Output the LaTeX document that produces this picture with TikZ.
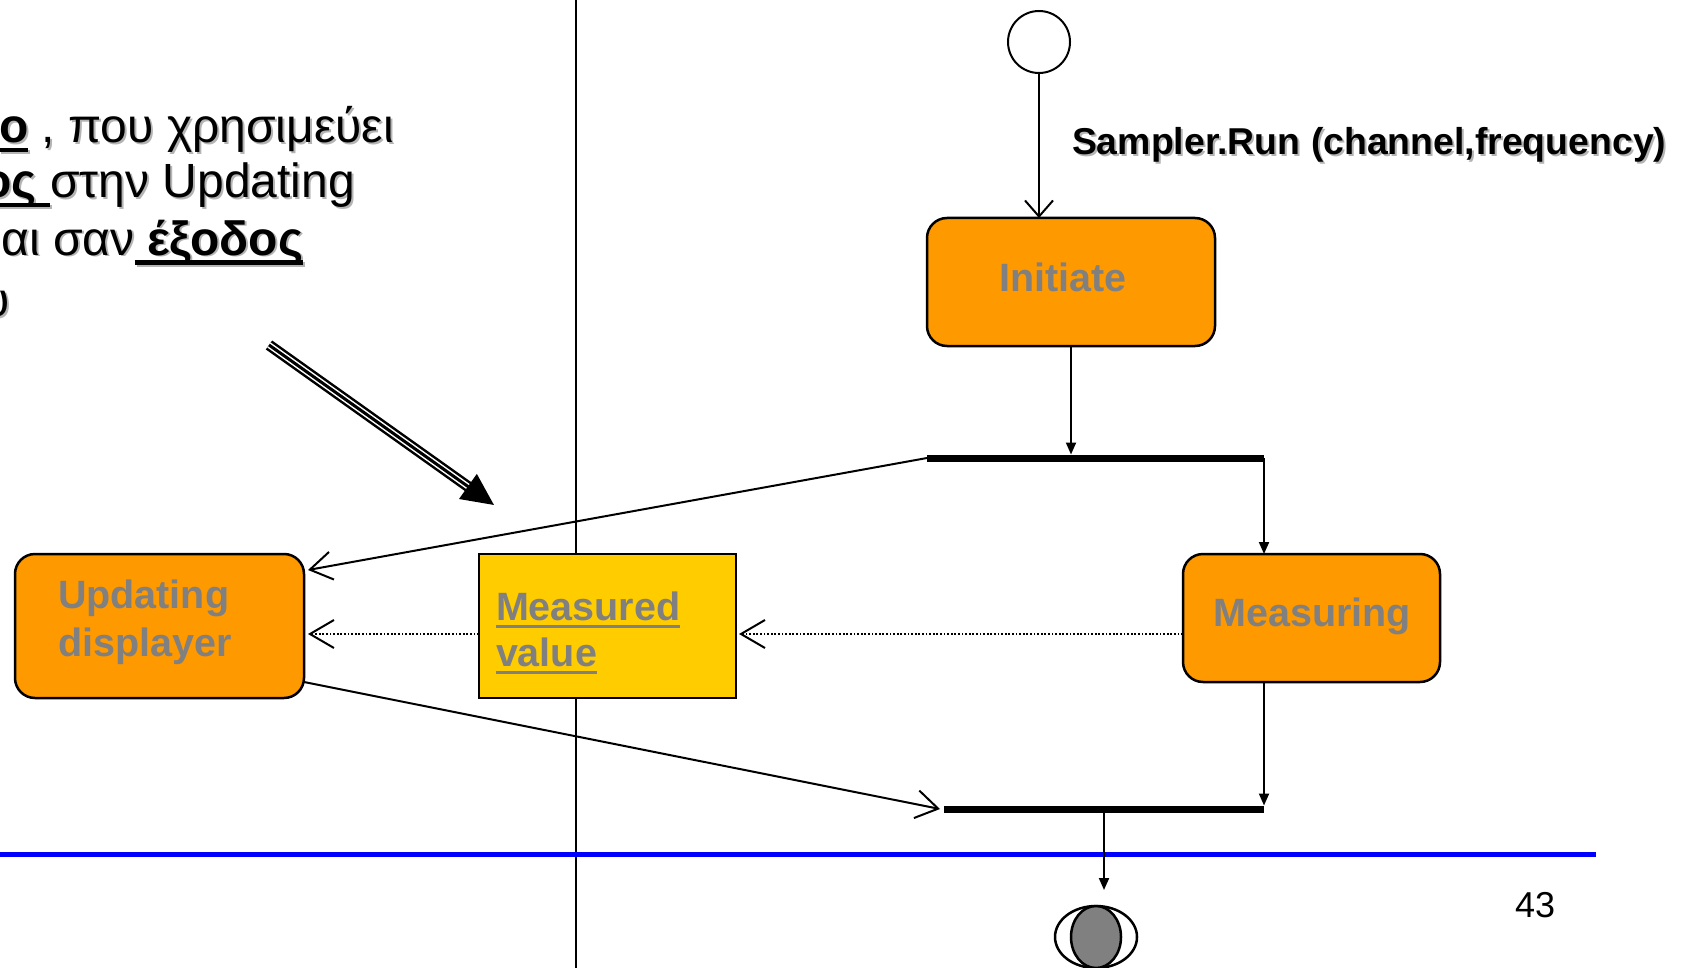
\documentclass[tikz,border=0pt]{standalone}
\usepackage{fontspec}
\setmainfont{Liberation Sans}
\usetikzlibrary{arrows.meta,calc,shapes.geometric}
\definecolor{actorange}{HTML}{FF9900}
\definecolor{objyellow}{HTML}{FFCC00}
\definecolor{labelgray}{HTML}{808080}
\definecolor{shadowgray}{HTML}{B4B4B4}
\definecolor{rulerblue}{HTML}{0000FF}
\newcommand{\myul}[3]{\setbox0=\hbox{#3}\rlap{\rule[-#1]{\wd0}{#2}}\box0\relax}
\begin{document}
\begin{tikzpicture}[x=1pt,y=-1pt,
  every node/.style={inner sep=0pt,outer sep=0pt},
  actbox/.style={draw=black,line width=2.5pt,fill=actorange,rounded corners=20pt},
  objbox/.style={draw=black,line width=2.5pt,fill=objyellow},
  barnode/.style={fill=black,draw=none},
  boxtext/.style={text=labelgray,font=\fontsize{39.5}{48}\selectfont\bfseries},
  greektext/.style={font=\fontsize{48}{56}\selectfont},
  conn/.style={draw=black,line width=2pt},
  openarrow/.style={conn,-{Straight Barb[length=22pt,width=28pt,line width=2pt]}},
  smallopen/.style={conn,-{Straight Barb[length=16pt,width=28pt,line width=2pt]}},
  filledarrow/.style={conn,-{Triangle[length=12pt,width=10pt]}},
  dottedarrow/.style={draw=black,line width=1.8pt,dash pattern=on 1.8pt off 1.8pt,-{Straight Barb[length=24pt,width=28pt,line width=2pt]}}
]
\useasboundingbox (0,0) rectangle (1685,968);
\fill[white] (0,0) rectangle (1685,968);

% divider and blue rule
\coordinate (divTop) at (576,0);
\coordinate (divBot) at (576,968);
\draw[line width=2pt] (divTop) -- (divBot);
\coordinate (blueL) at (0,854);
\coordinate (blueR) at (1596,854);
\draw[rulerblue,line width=5pt] (blueL) -- (blueR);

% Greek explanatory text (with shadow)
\node[greektext,text=shadowgray,anchor=base east] (g1s) at (396,145) {\myul{9.5pt}{4.5pt}{\textbf{ο}} , που χρησιμεύει};
\node[greektext,anchor=base east] (g1) at (394,143) {\myul{9.5pt}{4.5pt}{\textbf{ο}} , που χρησιμεύει};
\node[greektext,text=shadowgray,anchor=base east] (g2s) at (357,200) {\myul{9.5pt}{4.5pt}{\textbf{ος} }στην Updating};
\node[greektext,anchor=base east] (g2) at (355,198) {\myul{9.5pt}{4.5pt}{\textbf{ος} }στην Updating};
\node[greektext,text=shadowgray,anchor=base east] (g3s) at (305,257) {αι σαν\myul{9.5pt}{4.5pt}{ \textbf{έξοδος}}};
\node[greektext,anchor=base east] (g3) at (303,255) {αι σαν\myul{9.5pt}{4.5pt}{ \textbf{έξοδος}}};
\node[greektext,text=shadowgray,anchor=base east] (g4s) at (12,318) {υ};
\node[greektext,anchor=base east] (g4) at (10,316) {υ};

% big pointer arrow
\coordinate (bigA) at (269,345);
\coordinate (bigB) at (494,505);
\draw[line width=11pt,shorten >=27pt] (bigA) -- (bigB);
\draw[white,line width=6pt,shorten >=27pt] (bigA) -- (bigB);
\draw[line width=3pt,-{Triangle[length=32pt,width=30pt]}] (bigA) -- (bigB);

% initial node
\node[circle,draw=black,line width=2pt,fill=white,minimum size=62pt] (start) at (1039,42) {};
\node[font=\fontsize{37.4}{40}\selectfont\bfseries,text=shadowgray,anchor=base west] (samplers) at (1074,157) {Sampler.Run (channel,frequency)};
\node[font=\fontsize{37.4}{40}\selectfont\bfseries,anchor=base west] (sampler) at (1072,155) {Sampler.Run (channel,frequency)};

% activity boxes
\node[actbox,minimum width=288pt,minimum height=128pt] (Initiate) at (1071,282) {};
\node[boxtext,anchor=base] (tInitiate) at (1063,291) {Initiate};

\node[barnode,minimum width=337pt,minimum height=7pt] (fork) at (1095.5,458) {};

\node[actbox,minimum width=257pt,minimum height=128pt] (Measuring) at (1311.5,618) {};
\node[boxtext,anchor=base] (tMeasuring) at (1312,626) {Measuring};

\node[objbox,minimum width=257pt,minimum height=144pt] (Measured) at (607.5,626) {};
\node[boxtext,anchor=base west] (tMeasured1) at (496,620) {\myul{8pt}{3.5pt}{Measured}};
\node[boxtext,anchor=base west] (tMeasured2) at (496,666) {\myul{8pt}{3.5pt}{value}};

\node[actbox,minimum width=289pt,minimum height=144pt] (Updating) at (159.5,626) {};
\node[boxtext,anchor=base west] (tUpdating1) at (58,608) {Updating};
\node[boxtext,anchor=base west] (tUpdating2) at (58,656) {displayer};

\node[barnode,minimum width=320pt,minimum height=7pt] (join) at (1104,809) {};

% final node
\node[ellipse,draw=black,line width=2.5pt,fill=white,minimum width=82pt,minimum height=62pt] (final) at (1096,937) {};
\node[ellipse,draw=black,line width=2.5pt,fill=labelgray,minimum width=50pt,minimum height=62pt] (finalin) at (1096,937) {};

% page number
\node[font=\fontsize{36}{40}\selectfont,anchor=base] (pagenum) at (1535,917) {43};

% connectors
\draw[smallopen] (start.south) -- (start.south |- Initiate.north);
\draw[filledarrow] (Initiate.south) -- (Initiate.south |- fork.north);
\draw[openarrow] (fork.west) -- ($(Updating.north east)+(4,16)$);
\draw[filledarrow] (fork.east) -- (fork.east |- Measuring.north);
\draw[dottedarrow] ($(Measuring.west)+(0,16)$) -- ($(Measured.east)+(3,8)$);
\draw[dottedarrow] ($(Measured.west)+(0,8)$) -- ($(Updating.east)+(4,8)$);
\draw[openarrow] ($(Updating.south east)+(0,-16)$) -- ($(join.west)+(-4,0)$);
\draw[filledarrow] (fork.east |- Measuring.south) -- (fork.east |- join.north);
\draw[filledarrow] (join.south) -- ($(final.north)+(8,-16)$);
\end{tikzpicture}
\end{document}
